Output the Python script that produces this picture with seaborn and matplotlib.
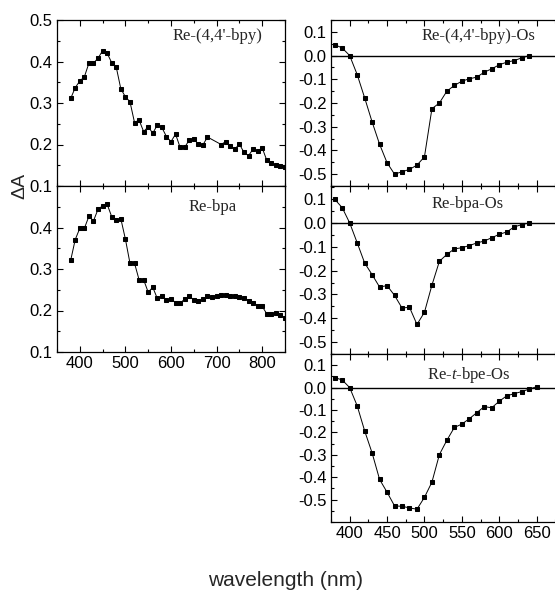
import numpy as np
import pandas as pd
import matplotlib
matplotlib.use("Agg")
import matplotlib.pyplot as plt
from matplotlib.ticker import MultipleLocator, FixedLocator, FormatStrFormatter
import seaborn as sns

sns.set_theme(style="ticks")
plt.rcParams['font.family'] = ['Liberation Sans', 'DejaVu Sans']
plt.rcParams['axes.unicode_minus'] = False
plt.rcParams['mathtext.fontset'] = 'custom'
plt.rcParams['mathtext.rm'] = 'Liberation Serif'
plt.rcParams['mathtext.it'] = 'Liberation Serif:italic'

# ---- data ----
wl_bpy = [380, 390, 400, 410, 420, 430, 440, 450, 460, 470, 480, 490, 500, 510, 520,
          530, 540, 550, 560, 570, 580, 590, 600, 610, 620, 630, 640, 650, 660, 670,
          680, 710, 720, 730, 740, 750, 760, 770, 780, 790, 800, 810, 820, 830, 840, 850]
dA_bpy = [0.311, 0.337, 0.353, 0.363, 0.396, 0.396, 0.408, 0.426, 0.420, 0.397, 0.386,
          0.334, 0.315, 0.303, 0.253, 0.259, 0.231, 0.243, 0.227, 0.247, 0.241, 0.219,
          0.207, 0.225, 0.193, 0.193, 0.211, 0.213, 0.201, 0.199, 0.218, 0.200, 0.207,
          0.196, 0.189, 0.201, 0.181, 0.173, 0.189, 0.184, 0.192, 0.162, 0.155, 0.150,
          0.148, 0.146]

wl_bpa = [380, 390, 400, 410, 420, 430, 440, 450, 460, 470, 480, 490, 500, 510, 520,
          530, 540, 550, 560, 570, 580, 590, 600, 610, 620, 630, 640, 650, 660, 670,
          680, 690, 700, 710, 720, 730, 740, 750, 760, 770, 780, 790, 800, 810, 820,
          830, 840, 850]
dA_bpa = [0.321, 0.371, 0.398, 0.398, 0.427, 0.416, 0.444, 0.452, 0.456, 0.426, 0.417,
          0.421, 0.372, 0.314, 0.314, 0.274, 0.274, 0.244, 0.256, 0.229, 0.235, 0.226,
          0.228, 0.219, 0.217, 0.228, 0.234, 0.226, 0.222, 0.228, 0.235, 0.233, 0.236,
          0.238, 0.238, 0.236, 0.235, 0.233, 0.230, 0.224, 0.219, 0.212, 0.210, 0.192,
          0.191, 0.195, 0.189, 0.182]

wl_os = [380, 390, 400, 410, 420, 430, 440, 450, 460, 470, 480, 490, 500, 510, 520,
         530, 540, 550, 560, 570, 580, 590, 600, 610, 620, 630, 640]
dA_bpy_os = [0.046, 0.032, 0.0, -0.080, -0.178, -0.280, -0.374, -0.452, -0.500, -0.490,
             -0.480, -0.462, -0.427, -0.224, -0.200, -0.150, -0.126, -0.108, -0.098,
             -0.091, -0.070, -0.056, -0.039, -0.028, -0.021, -0.010, 0.0]
dA_bpa_os = [0.099, 0.064, 0.0, -0.083, -0.168, -0.217, -0.269, -0.263, -0.304, -0.357,
             -0.354, -0.426, -0.375, -0.261, -0.161, -0.132, -0.109, -0.104, -0.095,
             -0.084, -0.076, -0.062, -0.048, -0.038, -0.017, -0.007, 0.0]

wl_bpe = [380, 390, 400, 410, 420, 430, 440, 450, 460, 470, 480, 490, 500, 510, 520,
          530, 540, 550, 560, 570, 580, 590, 600, 610, 620, 630, 640, 650]
dA_bpe_os = [0.045, 0.034, 0.0, -0.081, -0.193, -0.292, -0.410, -0.467, -0.528, -0.530,
             -0.537, -0.543, -0.490, -0.422, -0.299, -0.235, -0.178, -0.163, -0.139,
             -0.112, -0.085, -0.090, -0.061, -0.037, -0.027, -0.018, -0.007, 0.004]

labels = ["Re-(4,4'-bpy)", "Re-bpa", "Re-(4,4'-bpy)-Os", "Re-bpa-Os", "Re-$t$-bpe-Os"]

W, H = 555, 593
fig = plt.figure(figsize=(W / 100, H / 100), dpi=100)

def box(x0, y0, x1, y1):
    return [x0 / W, 1 - y1 / H, (x1 - x0) / W, (y1 - y0) / H]

axL1 = fig.add_axes(box(57, 20, 285, 186))
axL2 = fig.add_axes(box(57, 186, 285, 352))
axR1 = fig.add_axes(box(331, 20, 562, 186))
axR2 = fig.add_axes(box(331, 186, 562, 354))
axR3 = fig.add_axes(box(331, 354, 562, 522))

line_kw = dict(color="black", linewidth=0.7, marker="s", markersize=3.4,
               markeredgecolor="black", markerfacecolor="black")

def draw(ax, wl, vals):
    df = pd.DataFrame({"wl": wl, "dA": vals})
    sns.lineplot(data=df, x="wl", y="dA", ax=ax, **line_kw)

draw(axL1, wl_bpy, dA_bpy)
draw(axL2, wl_bpa, dA_bpa)
draw(axR1, wl_os, dA_bpy_os)
draw(axR2, wl_os, dA_bpa_os)
draw(axR3, wl_bpe, dA_bpe_os)

tick_fs = 12
serif = ['Liberation Serif', 'DejaVu Serif']

for ax in (axL1, axL2, axR1, axR2, axR3):
    ax.set_xlabel("")
    ax.set_ylabel("")
    for s in ax.spines.values():
        s.set_linewidth(0.9)
        s.set_color("black")
    ax.tick_params(which="both", direction="in", top=True, right=True,
                   labelsize=tick_fs, colors="black", width=0.8, pad=3)
    ax.tick_params(which="major", length=4)
    ax.tick_params(which="minor", length=2.2)

for ax in (axL1, axL2):
    ax.set_xlim(350, 850)
    ax.set_ylim(0.1, 0.5)
    ax.xaxis.set_major_locator(MultipleLocator(100))
    ax.xaxis.set_minor_locator(MultipleLocator(50))
    ax.yaxis.set_minor_locator(MultipleLocator(0.05))
    ax.yaxis.set_major_formatter(FormatStrFormatter("%.1f"))
axL1.yaxis.set_major_locator(FixedLocator([0.1, 0.2, 0.3, 0.4, 0.5]))
axL2.yaxis.set_major_locator(FixedLocator([0.1, 0.2, 0.3, 0.4]))
axL1.tick_params(labelbottom=False)

for ax in (axR1, axR2, axR3):
    ax.set_xlim(375, 684)
    ax.xaxis.set_major_locator(MultipleLocator(50))
    ax.xaxis.set_minor_locator(MultipleLocator(25))
    ax.yaxis.set_major_locator(FixedLocator([0.1, 0.0, -0.1, -0.2, -0.3, -0.4, -0.5]))
    ax.yaxis.set_minor_locator(MultipleLocator(0.05))
    ax.yaxis.set_major_formatter(FormatStrFormatter("%.1f"))
    ax.tick_params(which="both", right=False)
    ax.axhline(0.0, color="black", linewidth=1.0, zorder=1)
axR1.set_ylim(-0.55, 0.15)
axR2.set_ylim(-0.55, 0.155)
axR3.set_ylim(-0.6, 0.15)
axR1.tick_params(labelbottom=False)
axR2.tick_params(labelbottom=False)

title_fs = 12

def ftext(x, y, s):
    fig.text(x / W, 1 - y / H, s, fontsize=title_fs, family=serif, ha="center", va="center")

ftext(217, 36, labels[0])
ftext(213, 207, labels[1])
ftext(478, 36, labels[2])
ftext(468, 204, labels[3])
ftext(469, 375, labels[4])

fig.text(20 / W, 1 - 186 / H, "ΔA", fontsize=14, rotation=90, ha="center", va="center")
fig.text(286 / W, 1 - 581 / H, "wavelength (nm)", fontsize=15, ha="center", va="center")

fig.savefig("out.png", dpi=100)
